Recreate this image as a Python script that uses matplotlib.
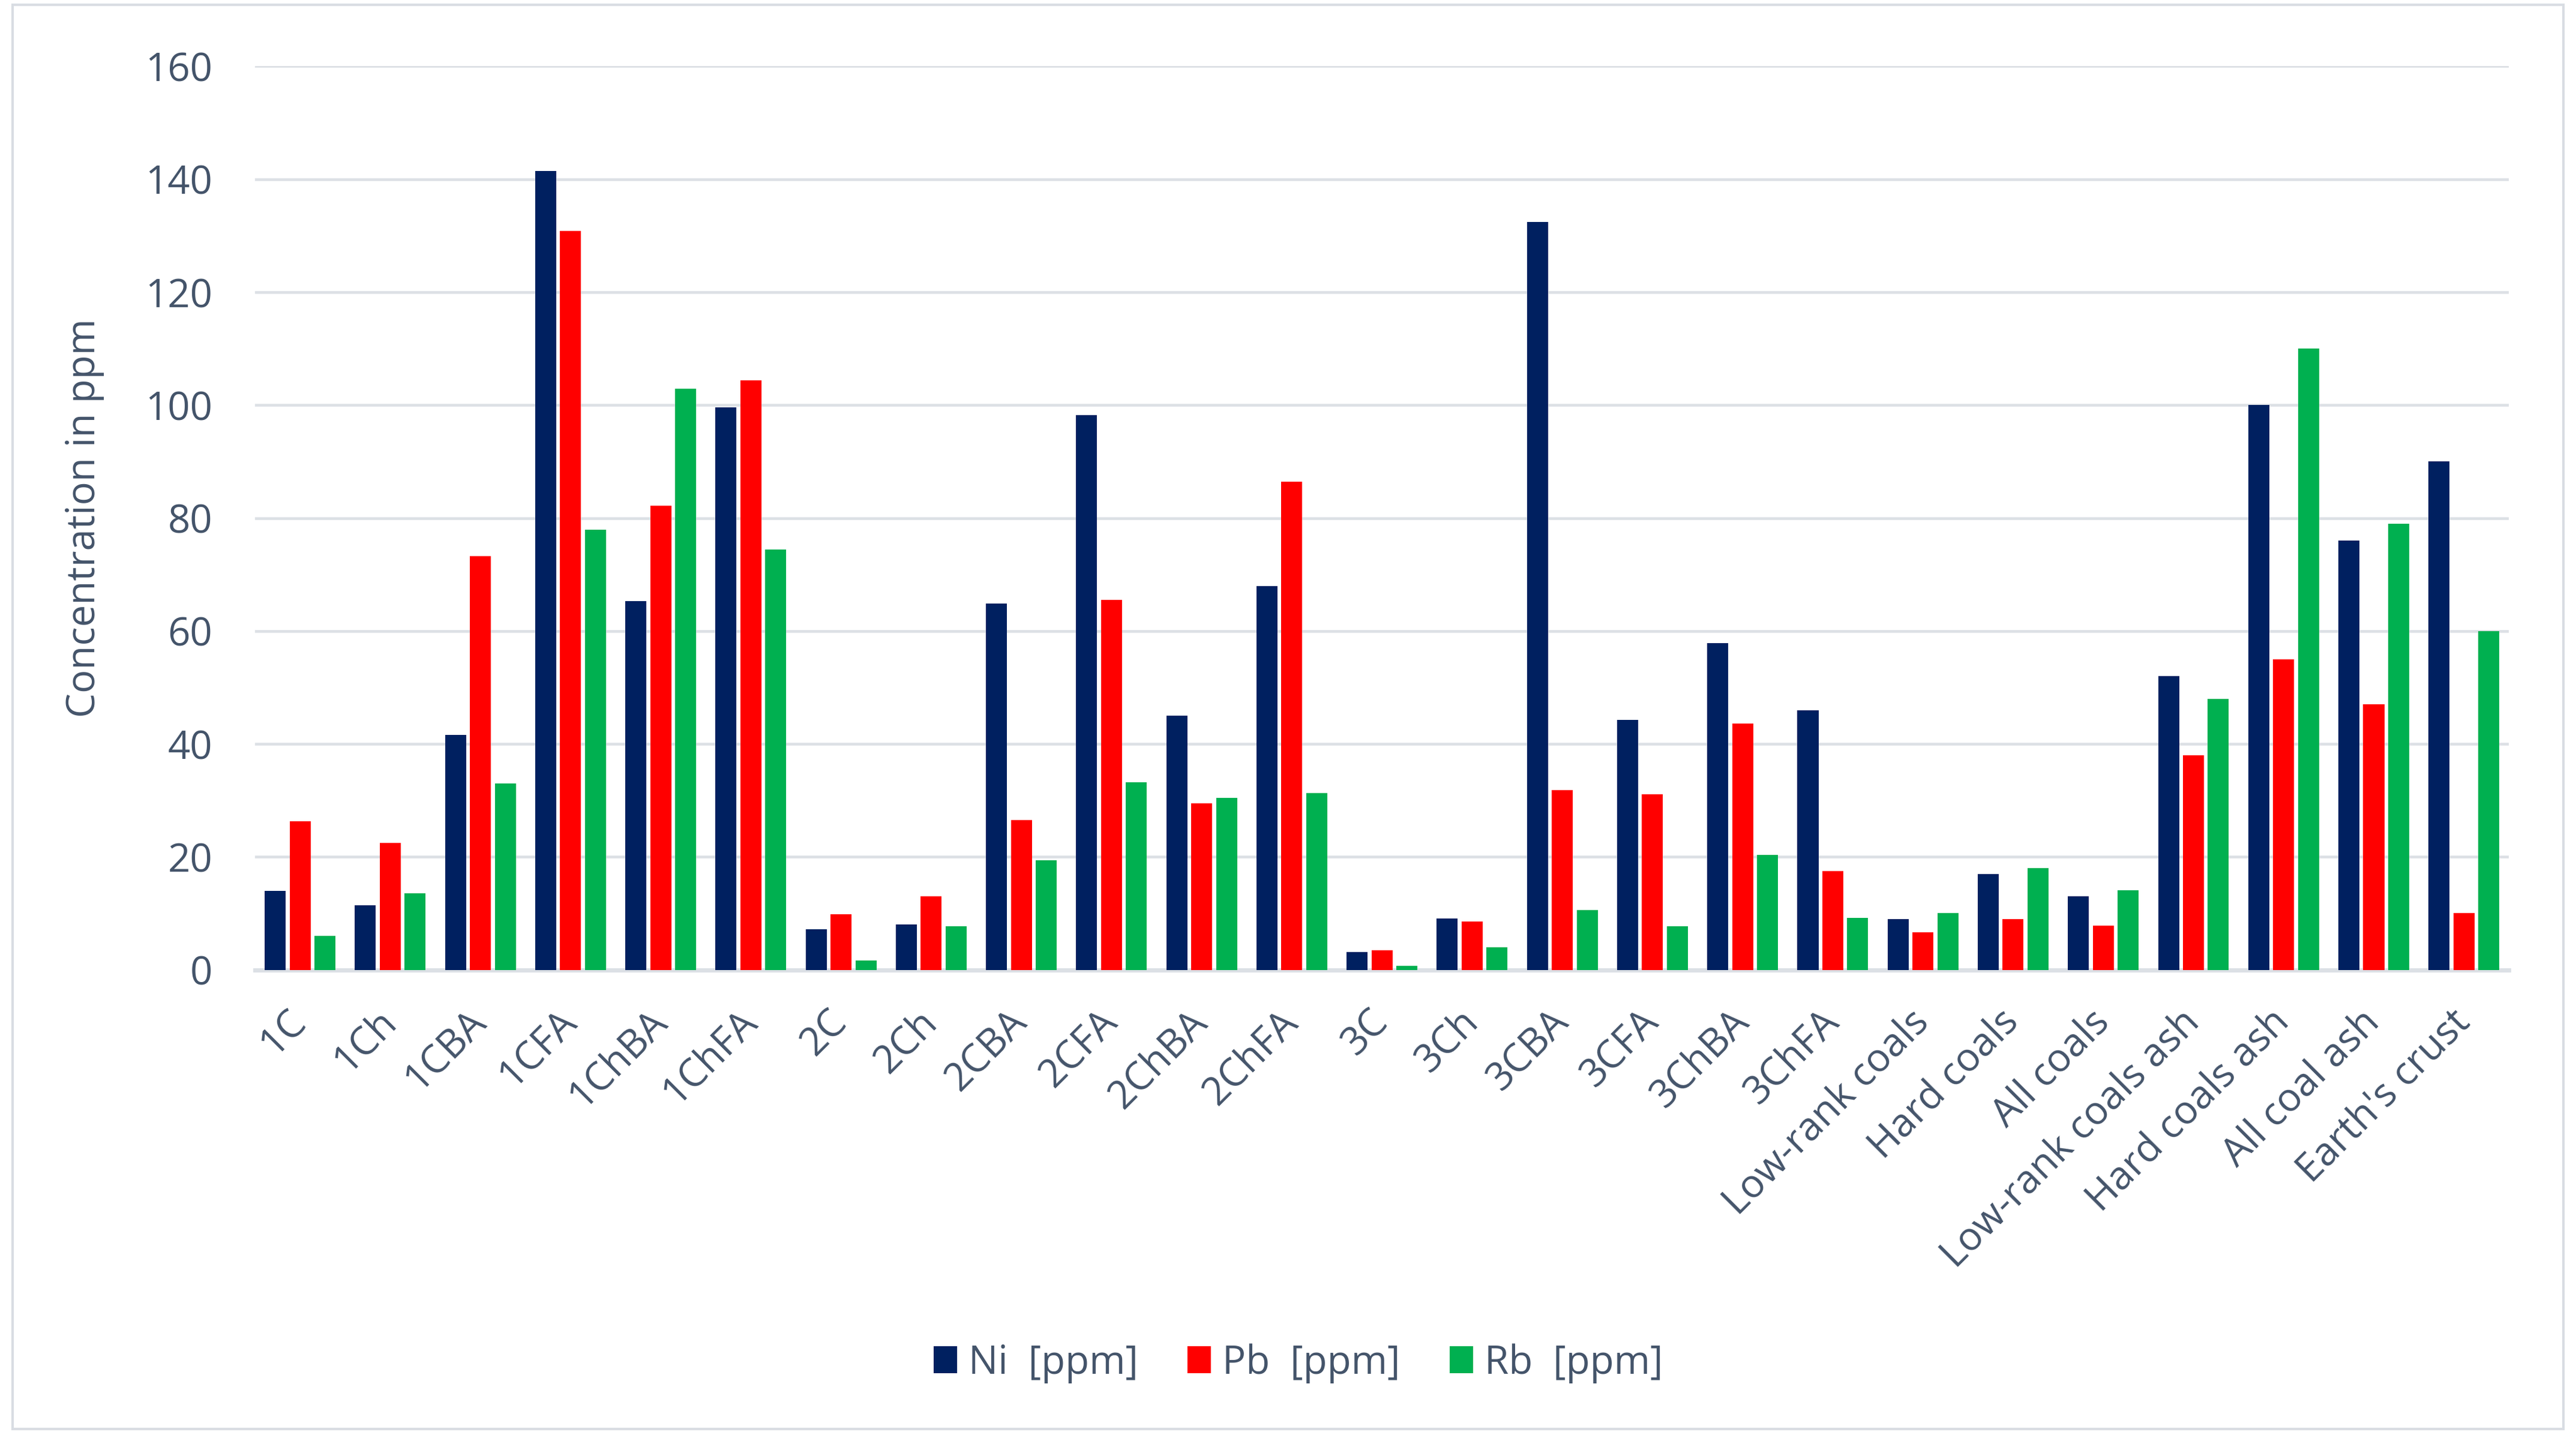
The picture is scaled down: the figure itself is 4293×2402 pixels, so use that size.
import numpy as np
import matplotlib
matplotlib.use("Agg")
import matplotlib.pyplot as plt
from matplotlib.patches import Rectangle

# data
categories = ["1C", "1Ch", "1CBA", "1CFA", "1ChBA", "1ChFA",
              "2C", "2Ch", "2CBA", "2CFA", "2ChBA", "2ChFA",
              "3C", "3Ch", "3CBA", "3CFA", "3ChBA", "3ChFA",
              "Low-rank coals", "Hard coals", "All coals",
              "Low-rank coals ash", "Hard coals ash", "All coal ash", "Earth's crust"]
ni = [14.0, 11.4, 41.6, 141.5, 65.3, 99.6,
      7.2, 8.0, 64.9, 98.2, 45.0, 67.9,
      3.1, 9.1, 132.4, 44.2, 57.9, 45.9,
      9.0, 17.0, 13.0, 52.0, 100.0, 76.0, 90.0]
pb = [26.3, 22.5, 73.3, 130.8, 82.2, 104.4,
      9.8, 13.0, 26.5, 65.5, 29.5, 86.4,
      3.5, 8.6, 31.8, 31.1, 43.6, 17.5,
      6.6, 9.0, 7.8, 38.0, 55.0, 47.0, 10.0]
rb = [6.0, 13.6, 33.0, 77.9, 102.9, 74.4,
      1.6, 7.7, 19.4, 33.2, 30.4, 31.3,
      0.7, 4.0, 10.6, 7.7, 20.3, 9.2,
      10.0, 18.0, 14.1, 48.0, 110.0, 79.0, 60.0]
series_names = ["Ni  [ppm]", "Pb  [ppm]", "Rb  [ppm]"]
yticks = [0, 20, 40, 60, 80, 100, 120, 140, 160]

colors = ["#002060", "#FF0000", "#00B050"]
text_col = "#44546A"
grid_col = "#DCE0E5"
fs = 47

plt.rcParams['font.family'] = ['Open Sans', 'DejaVu Sans']

fig = plt.figure(figsize=(42.93, 24.02), dpi=100)
ax = fig.add_axes([0.099, 0.327, 0.875, 0.627])

x = np.arange(len(categories))
w = 0.233
step = 0.276
for i, vals in enumerate([ni, pb, rb]):
    ax.bar(x + (i - 1) * step, vals, width=w, color=colors[i],
           label=series_names[i], zorder=3)

ax.set_xlim(-0.5, len(categories) - 0.5)
ax.set_ylim(0, 160)
ax.set_yticks(yticks)
ax.set_xticks(x)
ax.set_xticklabels(categories, rotation=45, ha="right", va="center",
                   rotation_mode="anchor")
ax.tick_params(axis="y", length=0, pad=51, labelsize=fs, colors=text_col)
ax.tick_params(axis="x", length=0, pad=56, labelsize=fs, colors=text_col)

ax.yaxis.grid(True, color=grid_col, linewidth=3.3, zorder=0)
ax.set_axisbelow(True)
ax.axhline(0, color=grid_col, linewidth=5, zorder=2, clip_on=False)
for s in ax.spines.values():
    s.set_visible(False)

ax.set_ylabel("Concentration in ppm", fontsize=fs, color=text_col)
ax.yaxis.set_label_coords(-0.0668, 0.5)

fig.legend(loc="center", bbox_to_anchor=(0.504, 0.054), ncol=3,
           frameon=False, fontsize=fs, labelcolor=text_col,
           handlelength=0.6, handleheight=0.67, handletextpad=0.29,
           columnspacing=1.26)

# chart border
fig.patches.append(Rectangle((0.0049, 0.0083), 0.9902, 0.9884,
                             transform=fig.transFigure, fill=False,
                             edgecolor="#D9DDE3", linewidth=3))

fig.savefig("out.png", dpi=100, facecolor="white")
